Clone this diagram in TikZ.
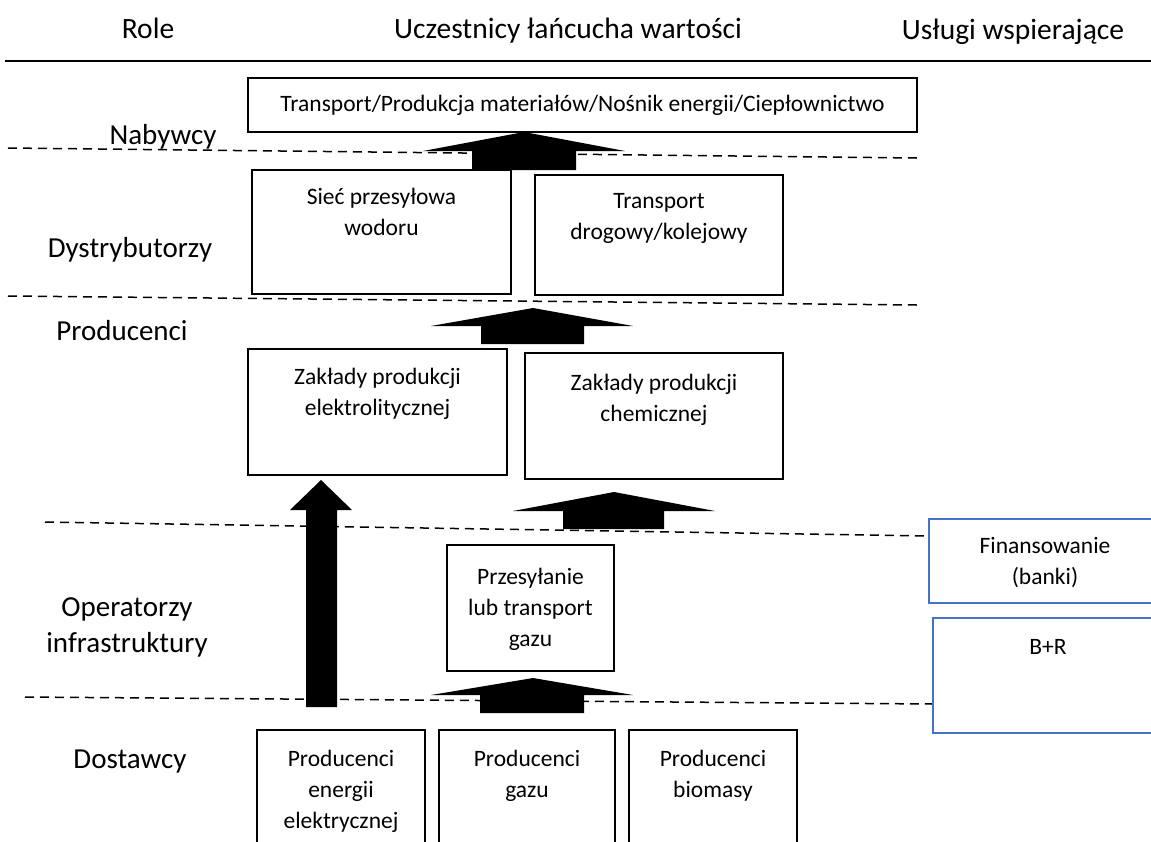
\documentclass[tikz,border=0pt]{standalone}
\usepackage{fontspec}
\setmainfont{Carlito}
\usetikzlibrary{fit}
\definecolor{officeblue}{HTML}{4472C4}
\newcommand{\blkarrow}[8]{\fill[black] (#1,#2) -- (#5,#3) -- (#7,#3) -- (#7,#8) -- (#6,#8) -- (#6,#3) -- (#4,#3) -- cycle;}
\tikzset{
  box/.style={draw=black, line width=1.2pt, inner sep=0pt, fill=none},
  bluebox/.style={draw=officeblue, line width=2.2pt, inner sep=0pt},
  btxt/.style={align=center, font=\fontsize{23.5}{31}\selectfont, inner sep=0pt, anchor=north},
  role/.style={align=center, font=\fontsize{29}{36}\selectfont, inner sep=0pt},
  head/.style={font=\fontsize{29.5}{34}\selectfont, inner sep=0pt, anchor=base},
  sep/.style={dashed, dash pattern=on 9pt off 6pt, line width=1.5pt},
}
\begin{document}
\begin{tikzpicture}[x=1pt,y=-1pt]
\useasboundingbox (0,0) rectangle (1151,841);
\clip (0,0) rectangle (1151,841);
% headers
\node[head] (hrole) at (148,38) {Role};
\node[head] (hucz) at (568,38) {Uczestnicy łańcucha wartości};
\node[head] (husl) at (1013,39) {Usługi wspierające};
\coordinate (hl1) at (5,61);
\coordinate (hl2) at (1151,61);
\draw[line width=1.3pt] (hl1) -- (hl2);
% dashed separators
\coordinate (d1a) at (8,148); \coordinate (d1b) at (917,158);
\coordinate (d2a) at (8,296); \coordinate (d2b) at (917,305);
\coordinate (d3a) at (45,522); \coordinate (d3b) at (929,536);
\coordinate (d4a) at (25,697); \coordinate (d4b) at (933,704);
\draw[sep] (d1a) -- (d1b);
\draw[sep] (d2a) -- (d2b);
\draw[sep] (d3a) -- (d3b);
\draw[sep] (d4a) -- (d4b);
% role labels
\node[role] (rnab) at (163,137) {Nabywcy};
\node[role] (rdys) at (130,250) {Dystrybutorzy};
\node[role] (rpro) at (122,331) {Producenci};
\node[role] (rope) at (127,627) {Operatorzy\\infrastruktury};
\node[role] (rdos) at (130,762) {Dostawcy};
% boxes
\node[box, fit={(248,78) (917,132)}] (top) {};
\node[btxt, anchor=center] (toptxt) at (top.center) {Transport/Produkcja materiałów/Nośnik energii/Ciepłownictwo};
\node[box, fit={(252,170) (511,294)}] (siec) {};
\node[btxt] (siectxt) at ([yshift=-19pt]siec.north) {Sieć przesyłowa\\wodoru};
\node[box, fit={(535,175) (783,295)}] (trans) {};
\node[btxt] (transtxt) at ([yshift=-19pt]trans.north) {Transport\\drogowy/kolejowy};
\node[box, fit={(248,349) (507,475)}] (elek) {};
\node[btxt] (elektxt) at ([yshift=-20pt]elek.north) {Zakłady produkcji\\elektrolitycznej};
\node[box, fit={(525,353) (783,479)}] (chem) {};
\node[btxt] (chemtxt) at ([yshift=-22pt]chem.north) {Zakłady produkcji\\chemicznej};
\node[box, fit={(447,545) (614,671)}] (przes) {};
\node[btxt] (przestxt) at ([yshift=-24pt]przes.north) {Przesyłanie\\lub transport\\gazu};
\node[box, fit={(257,730) (425,860)}] (pen) {};
\node[btxt] (pentxt) at ([yshift=-21pt]pen.north) {Producenci\\energii\\elektrycznej};
\node[box, fit={(439,730) (615,860)}] (pgaz) {};
\node[btxt] (pgaztxt) at ([yshift=-21pt]pgaz.north) {Producenci\\gazu};
\node[box, fit={(629,730) (797,860)}] (pbio) {};
\node[btxt] (pbiotxt) at ([yshift=-21pt]pbio.north) {Producenci\\biomasy};
% support services
\node[bluebox, fit={(929,519) (1175,603)}] (fin) {};
\node[btxt] (fintxt) at (1045,537) {Finansowanie\\(banki)};
\node[bluebox, fit={(933,618) (1175,733)}] (br) {};
\node[btxt] (brtxt) at (1048,639) {B+R};
% block arrows
\blkarrow{524}{132}{151}{423}{625}{472}{576}{170}
\blkarrow{533}{308}{326}{431}{633}{481}{584}{344}
\blkarrow{321}{480}{510}{290}{352}{306}{337}{707}
\blkarrow{614}{492}{511}{513}{715}{563}{664}{529}
\blkarrow{533}{678}{695}{431}{633}{480}{584}{713}
\end{tikzpicture}
\end{document}
